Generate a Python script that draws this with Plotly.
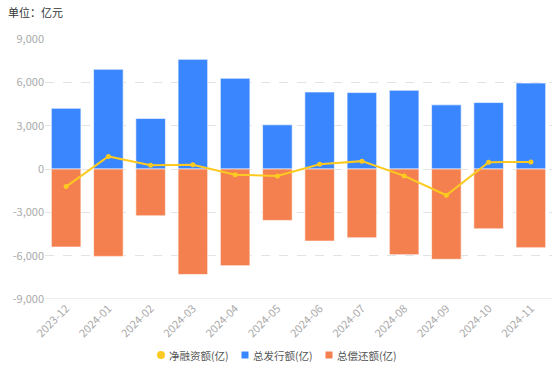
import plotly.graph_objects as go

months = ["2023-12", "2024-01", "2024-02", "2024-03", "2024-04", "2024-05",
          "2024-06", "2024-07", "2024-08", "2024-09", "2024-10", "2024-11"]
issuance = [4200, 6900, 3500, 7590, 6280, 3060, 5330, 5290, 5450, 4440, 4600, 5950]
repayment = [-5400, -6050, -3240, -7300, -6690, -3560, -4990, -4760, -5930, -6250, -4140, -5450]
net_financing = [-1220, 870, 255, 300, -395, -485, 325, 545, -480, -1815, 475, 480]
series_names = ["净融资额(亿)", "总发行额(亿)", "总偿还额(亿)"]

y_ticks = [-9000, -6000, -3000, 0, 3000, 6000, 9000]
y_tick_text = ["-9,000", "-6,000", "-3,000", "0", "3,000", "6,000", "9,000"]

FONT = "Noto Sans CJK SC, Noto Sans, sans-serif"
BLUE = "#3a86fe"
ORANGE = "#f5804f"
YELLOW = "#fcca20"
colors = [YELLOW, BLUE, ORANGE]

W, H = 554, 370
L, R, T, B = 45, 2, 39, 71
pw, ph = W - L - R, H - T - B


def px(x):
    return (x - L) / pw


def py(y):
    return (H - B - y) / ph


fig = go.Figure()
fig.add_trace(go.Bar(
    x=months, y=issuance, name=series_names[1],
    marker=dict(color=BLUE, line=dict(color="rgba(255,255,255,0.6)", width=1)),
))
fig.add_trace(go.Bar(
    x=months, y=repayment, name=series_names[2],
    marker=dict(color=ORANGE, line=dict(color="rgba(255,255,255,0.6)", width=1)),
))
fig.add_trace(go.Scatter(
    x=months, y=net_financing, name=series_names[0], mode="lines+markers",
    line=dict(color=YELLOW, width=2),
    marker=dict(color=YELLOW, size=5, symbol="circle"),
))

annotations = [dict(text="单位：亿元", xref="paper", yref="paper", x=px(6), y=py(12),
                    xanchor="left", yanchor="middle", showarrow=False,
                    font=dict(family=FONT, size=11, color="#333333"))]
shapes = [dict(type="line", xref="paper", yref="y", x0=0, x1=1, y0=-9000, y1=-9000,
               line=dict(color="#d9d9d9", width=1))]

# custom legend (symbol centre x, text start x)
legend_y = 355
legend_pos = [(161, 169), (245, 253), (329, 337)]
for i, (name, (sx, tx)) in enumerate(zip(series_names, legend_pos)):
    if i == 0:
        shapes.append(dict(type="circle", xref="paper", yref="paper",
                           x0=px(sx - 4), x1=px(sx + 4), y0=py(legend_y + 4), y1=py(legend_y - 4),
                           fillcolor=colors[i], line=dict(width=0)))
    else:
        shapes.append(dict(type="rect", xref="paper", yref="paper",
                           x0=px(sx - 3.5), x1=px(sx + 3.5), y0=py(legend_y + 3.5), y1=py(legend_y - 3.5),
                           fillcolor=colors[i], line=dict(width=0)))
    annotations.append(dict(text=name, xref="paper", yref="paper", x=px(tx), y=py(legend_y),
                            xanchor="left", yanchor="middle", showarrow=False, xshift=-2,
                            font=dict(family=FONT, size=10.5, color="#555555")))

fig.update_layout(
    width=W, height=H,
    margin=dict(l=L, r=R, t=T, b=B, autoexpand=False),
    paper_bgcolor="white", plot_bgcolor="white",
    barmode="relative", bargap=0.3,
    font=dict(family=FONT, size=11, color="#999999"),
    showlegend=False,
    annotations=annotations,
    shapes=shapes,
)

fig.update_xaxes(
    type="category", range=[-0.5, len(months) - 0.5], tickangle=-45,
    showgrid=False, zeroline=False, automargin=False,
    showline=False, ticks="", tickfont=dict(size=11, color="#aaaaaa"),
)
fig.update_yaxes(
    range=[-9000, 9000], tickvals=y_ticks, ticktext=y_tick_text, automargin=False,
    showgrid=True, gridcolor="#e3e3e3", griddash="dash", gridwidth=1,
    zeroline=False, showline=False, ticks="",
    tickfont=dict(size=11, color="#aaaaaa"),
)

fig.write_html("out.html", config={"displayModeBar": False},
               post_script="document.body.style.margin='0px';")
